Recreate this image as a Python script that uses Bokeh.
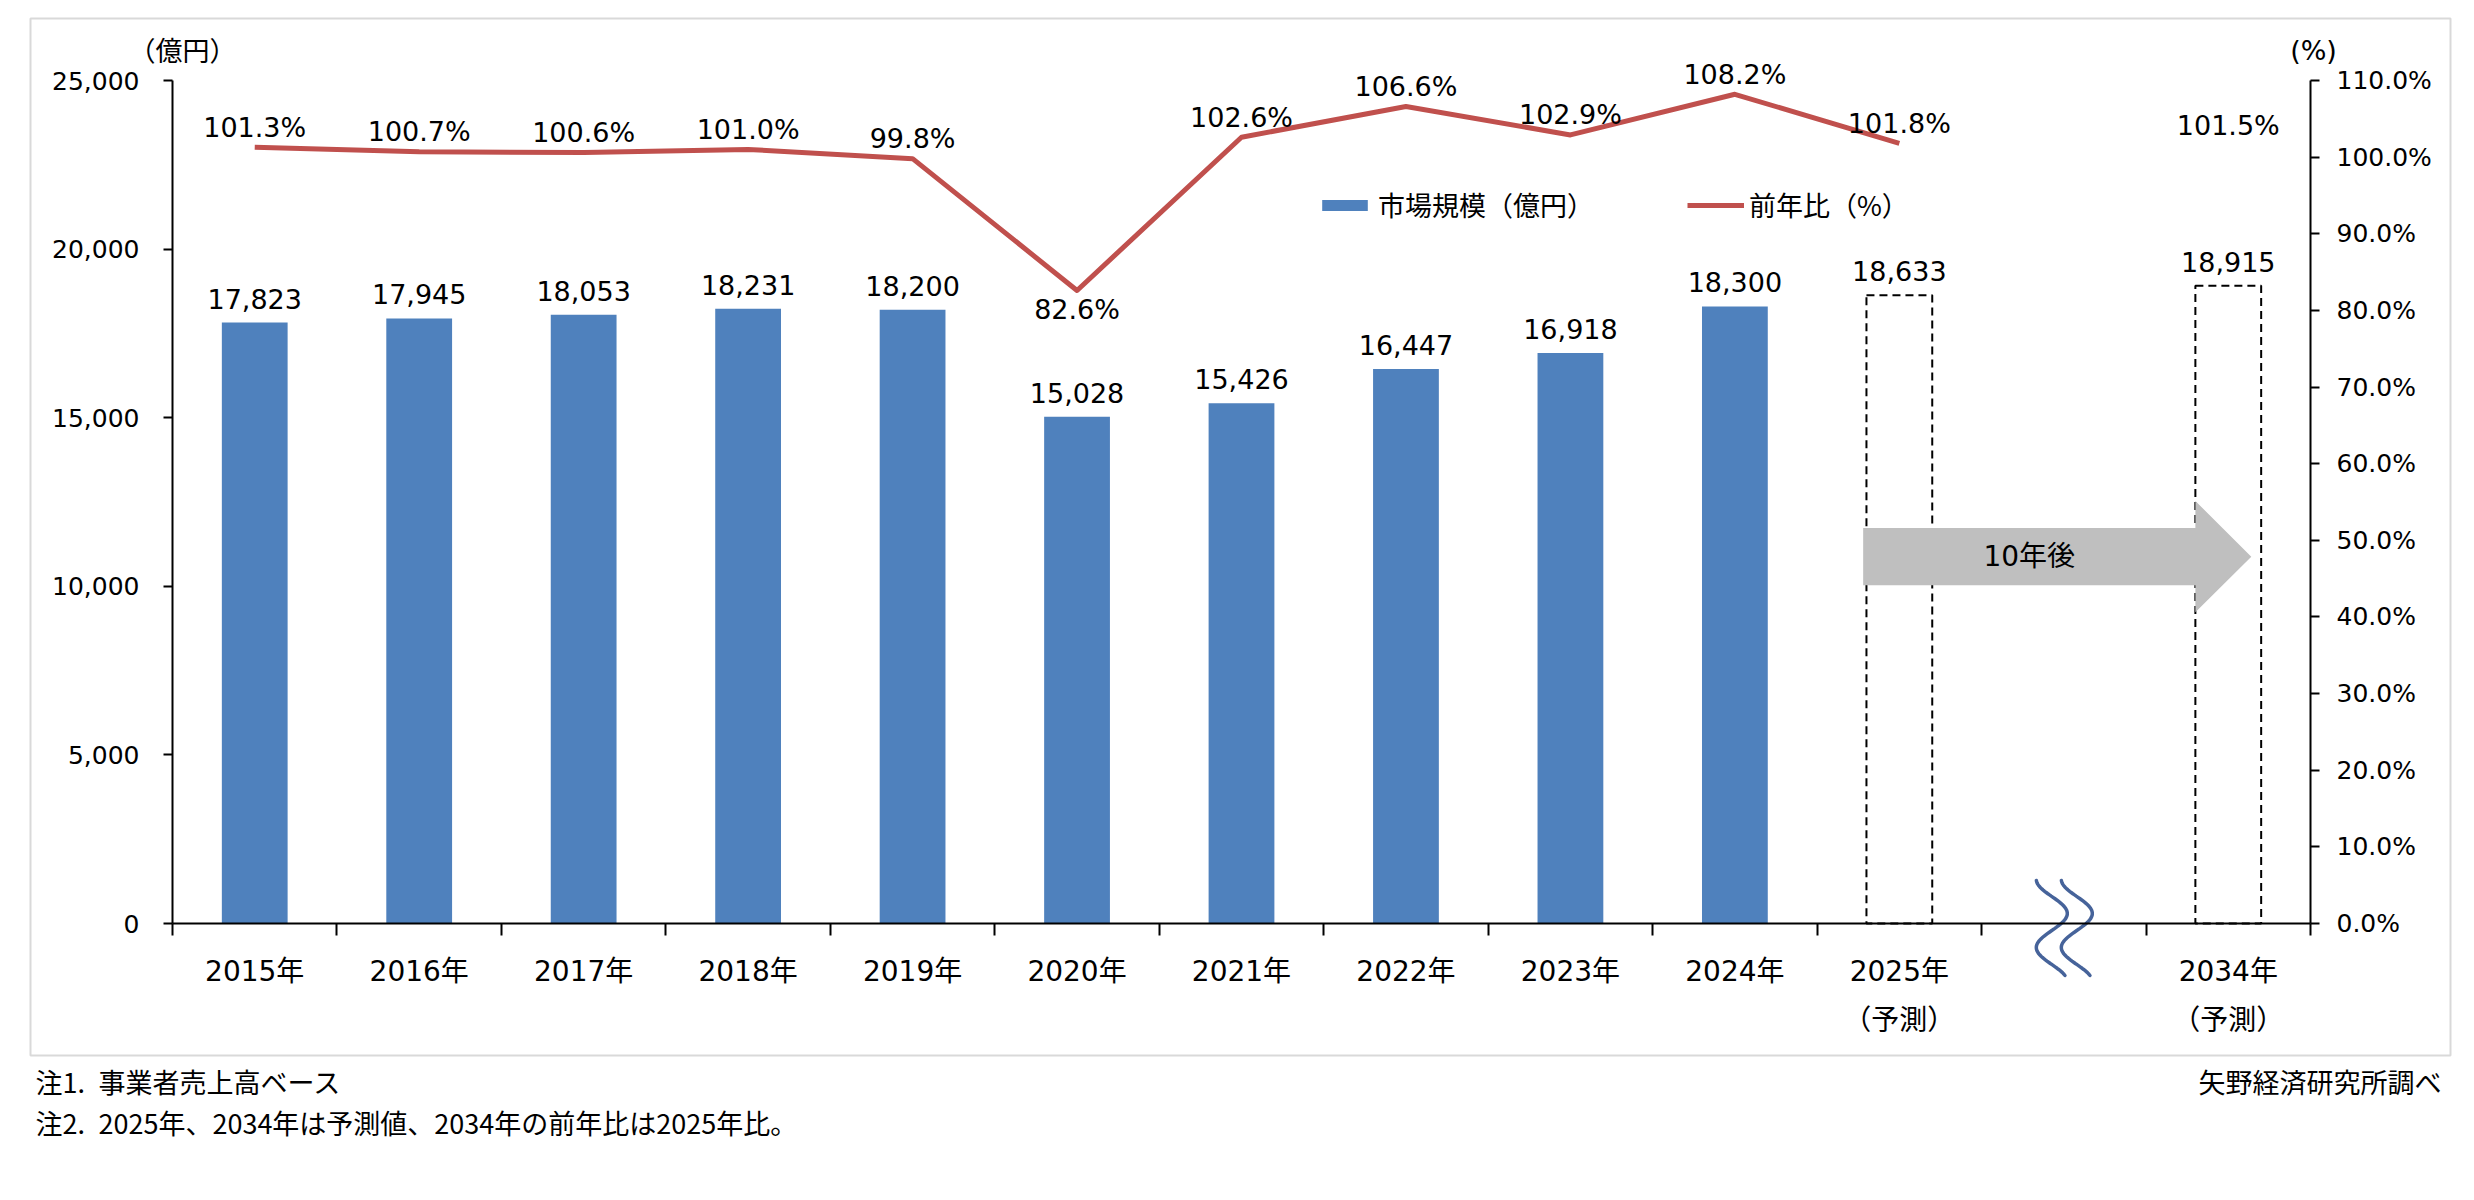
import numpy as np
from bokeh.plotting import figure
from bokeh.models import (Range1d, LinearAxis, FixedTicker, NumeralTickFormatter,
                          PrintfTickFormatter, Legend, LegendItem, ColumnDataSource)
from bokeh.core.properties import value
from bokeh.embed import file_html
from bokeh.resources import INLINE

# ---------------- data ----------------
categories = ["2015年", "2016年", "2017年", "2018年", "2019年", "2020年", "2021年",
              "2022年", "2023年", "2024年", "2025年\n（予測）", "", "2034年\n（予測）"]
market_size = [17823, 17945, 18053, 18231, 18200, 15028, 15426, 16447, 16918, 18300,
               18633, None, 18915]
yoy_pct = [101.3, 100.7, 100.6, 101.0, 99.8, 82.6, 102.6, 106.6, 102.9, 108.2,
           101.8, None, 101.5]
is_forecast = [False] * 10 + [True, False, True]
left_ticks = [0, 5000, 10000, 15000, 20000, 25000]
right_ticks = [0, 10, 20, 30, 40, 50, 60, 70, 80, 90, 100, 110]
notes = ["注1.\u2002事業者売上高ベース",
         "注2.\u20022025年、2034年は予測値、2034年の前年比は2025年比。"]
source_text = "矢野経済研究所調べ"

# ---------------- layout constants (pixels) ----------------
W, H = 2474, 1200
FL, FR, FT, FB = 172, 2310, 80, 923          # plot area inside the chart box
NSLOT = len(categories)
YMAX, PMAX = 25000, 110
XPX = (FR - FL) / NSLOT
YPX = (FB - FT) / YMAX
PPX = (FB - FT) / PMAX


def dx(px):
    return (px - FL) / XPX


def dy(py):
    return (FB - py) / YPX


LAT = "'DejaVu Sans', 'Noto Sans CJK JP'"
JP = "'Noto Sans CJK JP'"
BLUE = "#4F81BD"
RED = "#C0504D"
BAR_W = 0.4

p = figure(width=W, height=H, title=None,
           x_range=Range1d(dx(0), dx(W)), y_range=Range1d(dy(H), dy(0)),
           output_backend="svg", toolbar_location=None, min_border=0)
p.extra_y_ranges = {"pct": Range1d(-(H - FB) / PPX, FB / PPX)}
p.outline_line_color = None
p.background_fill_color = "white"
p.border_fill_color = "white"
p.xgrid.visible = False
p.ygrid.visible = False

# chart box
p.quad(left=[dx(30)], right=[dx(2450)], top=[dy(18)], bottom=[dy(1055)],
       fill_color=None, line_color="#D9D9D9", line_width=2)

# ---------------- axes ----------------
ya = p.yaxis[0]
ya.ticker = FixedTicker(ticks=left_ticks)
ya.formatter = NumeralTickFormatter(format="0,0")
ya.bounds = (0, YMAX)
ya.fixed_location = 0
ra = LinearAxis(y_range_name="pct", ticker=FixedTicker(ticks=right_ticks),
                formatter=PrintfTickFormatter(format="%.1f%%"), bounds=(0, PMAX),
                fixed_location=NSLOT)
p.add_layout(ra, "right")
for ax in (ya, ra):
    ax.axis_line_color = "black"
    ax.axis_line_width = 2
    ax.major_tick_line_color = "black"
    ax.major_tick_line_width = 2
    ax.major_tick_out = 9
    ax.major_tick_in = 0
    ax.minor_tick_out = 0
    ax.minor_tick_in = 0
    ax.major_label_text_font = LAT
    ax.major_label_text_font_size = "25px"
    ax.major_label_text_color = "black"
ya.major_label_standoff = 24
ra.major_label_standoff = 17

xa = p.xaxis[0]
centers = [i + 0.5 for i in range(NSLOT)]
xa.ticker = FixedTicker(ticks=[c for c, l in zip(centers, categories) if l],
                        minor_ticks=list(range(NSLOT + 1)))
xa.major_label_overrides = {c: l for c, l in zip(centers, categories) if l}
xa.bounds = (0, NSLOT)
xa.fixed_location = 0
xa.axis_line_color = "black"
xa.axis_line_width = 2
xa.major_tick_out = 0
xa.major_tick_in = 0
xa.minor_tick_out = 12
xa.minor_tick_in = 0
xa.minor_tick_line_color = "black"
xa.minor_tick_line_width = 2
xa.major_label_text_font = LAT
xa.major_label_text_font_size = "28px"
xa.major_label_text_color = "black"
xa.major_label_text_line_height = 1.5
xa.major_label_standoff = 19

# ---------------- bars ----------------
act = [(c, v) for c, v, f in zip(centers, market_size, is_forecast) if v is not None and not f]
fct = [(c, v) for c, v, f in zip(centers, market_size, is_forecast) if v is not None and f]
src_act = ColumnDataSource(dict(x=[a[0] for a in act], top=[a[1] for a in act]))
src_fct = ColumnDataSource(dict(x=[a[0] for a in fct], top=[a[1] for a in fct]))
bars = p.vbar(x="x", top="top", width=BAR_W, source=src_act, fill_color=BLUE, line_color=None)
p.vbar(x="x", top="top", width=BAR_W, source=src_fct, fill_color="white",
       line_color="black", line_dash="8 5", line_width=2)

allv = [(c, v) for c, v in zip(centers, market_size) if v is not None]
p.text(x=[a[0] for a in allv], y=[a[1] for a in allv], text=[f"{a[1]:,}" for a in allv],
       text_align="center", text_baseline="alphabetic", y_offset=-24,
       text_font=value("DejaVu Sans"), text_font_size="27px", text_color="black")

# ---------------- arrow (10年後) ----------------
fc_x = [a[0] for a in fct]
ax0 = fc_x[0] - BAR_W / 2 - 0.02
ax1 = fc_x[-1] - BAR_W / 2
ax2 = ax1 + 0.34
ay, bh, hh = 10880, 850, 1650
p.patch(x=[ax0, ax1, ax1, ax2, ax1, ax1, ax0],
        y=[ay + bh, ay + bh, ay + hh, ay, ay - hh, ay - bh, ay - bh],
        fill_color="#BFBFBF", line_color=None)
p.text(x=[(ax0 + ax1) / 2], y=[ay], text=["10年後"], text_align="center",
       text_baseline="middle", text_font=value(LAT), text_font_size="28px", text_color="black")

# ---------------- YoY line ----------------
yy = [np.nan if v is None else v for v in yoy_pct]
line = p.line(x=centers, y=yy, y_range_name="pct", line_color=RED, line_width=5,
              line_join="round")
up = [(c, v) for c, v in zip(centers, yoy_pct) if v is not None and v >= 90]
dn = [(c, v) for c, v in zip(centers, yoy_pct) if v is not None and v < 90]
p.text(x=[a[0] for a in up], y=[a[1] for a in up], text=[f"{a[1]:.1f}%" for a in up],
       y_range_name="pct", text_align="center", text_baseline="alphabetic", y_offset=-20,
       text_font=value("DejaVu Sans"), text_font_size="27px", text_color="black")
p.text(x=[a[0] for a in dn], y=[a[1] for a in dn], text=[f"{a[1]:.1f}%" for a in dn],
       y_range_name="pct", text_align="center", text_baseline="top", y_offset=4,
       text_font=value("DejaVu Sans"), text_font_size="27px", text_color="black")

# ---------------- wave (break mark) ----------------
gap_c = [c for c, l in zip(centers, categories) if not l][0]
t = np.linspace(-43, 52, 80)
wx = -12 + 15.5 * np.cos(2 * np.pi * (t + 10) / 68)
for off in (0, 25):
    p.line(x=gap_c + (wx + off) / XPX, y=-t / YPX, line_color="#46639A",
           line_width=3.5, line_cap="round")

# ---------------- legend ----------------
legend = Legend(items=[LegendItem(label="市場規模（億円）", renderers=[bars]),
                       LegendItem(label="前年比（%）", renderers=[line])],
                orientation="horizontal", location=(1316, H - 224),
                glyph_width=57, glyph_height=14, spacing=93, label_standoff=5,
                padding=0, margin=0, border_line_color=None, background_fill_alpha=0,
                label_text_font=JP, label_text_font_size="27px", label_text_color="black")
p.add_layout(legend)

# ---------------- texts around the plot ----------------
p.text(x=[dx(182)], y=[dy(49)], text=["（億円）"], text_align="center",
       text_baseline="middle", text_font=value(JP), text_font_size="27px", text_color="black")
p.text(x=[dx(2313)], y=[dy(50)], text=["(%)"], text_align="center",
       text_baseline="middle", text_font=value(LAT), text_font_size="27px", text_color="black")
p.text(x=[dx(35), dx(35)], y=[dy(1081), dy(1122)], text=notes, text_align="left",
       text_baseline="middle", text_font=value(JP), text_font_size="27px", text_color="black")
p.text(x=[dx(2441)], y=[dy(1081)], text=[source_text], text_align="right",
       text_baseline="middle", text_font=value(JP), text_font_size="27px", text_color="black")

open("out.html", "w").write(file_html(p, INLINE))
